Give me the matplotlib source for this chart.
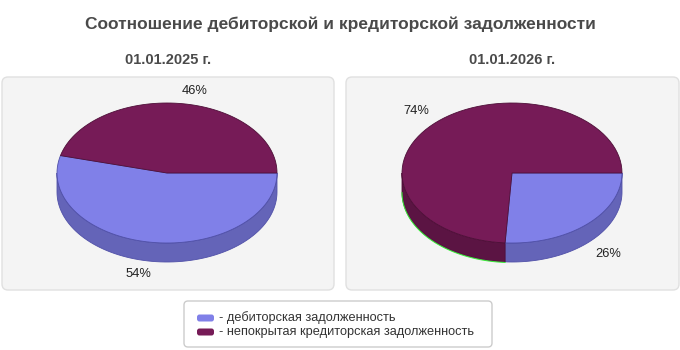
import numpy as np
import matplotlib.pyplot as plt
from matplotlib.patches import FancyBboxPatch, Polygon

plt.rcParams['font.family'] = ['Liberation Sans', 'DejaVu Sans']

# данные
dates = ['01.01.2025 г.', '01.01.2026 г.']
series = ['дебиторская задолженность', 'непокрытая кредиторская задолженность']
shares = [[54, 46], [26, 74]]  # %

top_colors = ['#8080e8', '#761b57']
side_colors = ['#6464b8', '#5b1443']
edge_colors = ['#5050a8', '#4e0f38']

W, H = 680, 350
fig = plt.figure(figsize=(W / 100, H / 100), dpi=100)
ax = fig.add_axes([0, 0, 1, 1])
ax.set_xlim(0, W)
ax.set_ylim(H, 0)
ax.axis('off')

ax.text(340, 24, 'Соотношение дебиторской и кредиторской задолженности',
        ha='center', va='center', fontsize=12.5, fontweight='bold', color='#4a4a4a')

panels = [(2, 77, 332, 213), (346, 77, 333, 213)]
centers = [(167, 173), (512, 173)]
rx, ry, depth = 110, 70, 19


def arc(cx, cy, a, b, dy=0, n=80):
    t = np.linspace(a, b, n)
    return np.column_stack([cx + rx * np.cos(t), cy + dy + ry * np.sin(t)])


for k in range(2):
    px, py, pw, ph = panels[k]
    ax.add_patch(FancyBboxPatch((px, py), pw, ph, boxstyle='round,pad=0,rounding_size=6',
                                fc='#f4f4f4', ec='#e0e0e0', lw=1))
    ax.text(px + pw / 2, 60, dates[k], ha='center', va='center',
            fontsize=10.5, fontweight='bold', color='#4a4a4a')
    cx, cy = centers[k]
    vals = np.array(shares[k], dtype=float)
    bounds = np.concatenate([[0], np.cumsum(vals) / vals.sum() * 2 * np.pi])

    # боковая стенка (видимая нижняя половина)
    for i in range(len(vals)):
        a, b = max(bounds[i], 0), min(bounds[i + 1], np.pi)
        if b <= a:
            continue
        upper = arc(cx, cy, a, b)
        lower = arc(cx, cy, a, b, dy=depth)[::-1]
        ax.add_patch(Polygon(np.vstack([upper, lower]), closed=True,
                             fc=side_colors[i], ec=edge_colors[i], lw=0.6))
        if k == 1 and i == 1:
            ax.plot(lower[:, 0], lower[:, 1] + 0.6, color='#33ee33', lw=0.7)

    # верхняя крышка
    for i in range(len(vals)):
        pts = np.vstack([[cx, cy], arc(cx, cy, bounds[i], bounds[i + 1])])
        ax.add_patch(Polygon(pts, closed=True, fc=top_colors[i], ec=edge_colors[i], lw=0.6))

    # подписи
    for i in range(len(vals)):
        m = (bounds[i] + bounds[i + 1]) / 2
        c, s = np.cos(m), np.sin(m)
        lx = cx + 1.1 * rx * c
        ly = cy + 1.1 * ry * s + (depth if s > 0 else 0)
        ax.text(lx, ly, f'{vals[i]:.0f}%', ha='left' if c > 0 else 'right',
                va='top' if s > 0 else 'bottom', fontsize=9.3, color='#222222')

# легенда
ax.add_patch(FancyBboxPatch((184, 301), 308, 46, boxstyle='round,pad=0,rounding_size=4',
                            fc='white', ec='#cccccc', lw=1))
for i, name in enumerate(series):
    y = 318 + i * 14
    ax.add_patch(FancyBboxPatch((197, y - 3.5), 17, 7, boxstyle='round,pad=0,rounding_size=2.5',
                                fc=top_colors[i], ec='none'))
    ax.text(219, y, '- ' + name, ha='left', va='center', fontsize=9.2, color='#333333')

fig.savefig('out.png', dpi=100)
